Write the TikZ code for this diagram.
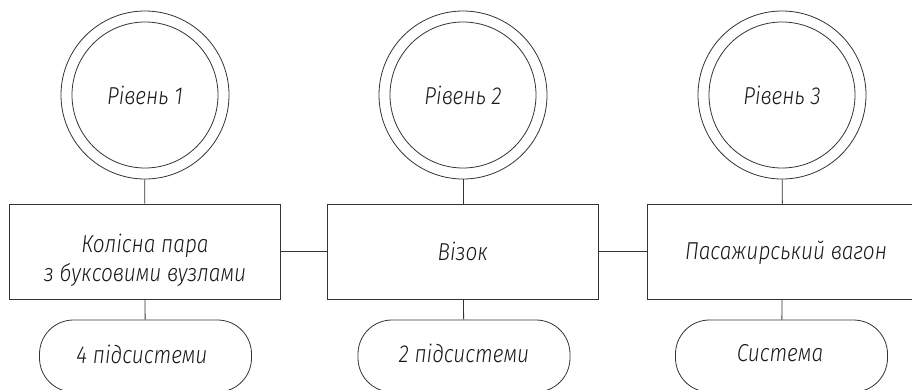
\documentclass[tikz,border=0pt]{standalone}
\usepackage{fontspec}
\IfFontExistsTF{Fira Sans Light}{\setmainfont{Fira Sans Light}[ItalicFont={Fira Sans Light Italic},ItalicFeatures={FakeStretch=0.85}]}{\setmainfont{Fira Sans}[ItalicFeatures={FakeStretch=0.85}]}
\begin{document}
\begin{tikzpicture}[x=1pt,y=-1pt,
  line width=0.8pt, draw=black!80,
  every node/.style={font=\fontsize{24.5}{29}\selectfont\itshape, text=black!90, inner sep=0pt},
  lvl/.style={circle, draw, minimum size=168pt},
  blk/.style={rectangle, draw, minimum width=271pt, minimum height=95pt, align=center},
  lbl/.style={align=center},
  pill/.style={rectangle, draw, rounded corners=34pt, minimum width=212pt, minimum height=72pt}]
\clip (0,0) rectangle (912,389);
\useasboundingbox (0,0) rectangle (912,389);

\node[lvl] (c1) at (145,95) {Рівень 1};
\node[lvl] (c2) at (463,95) {Рівень 2};
\node[lvl] (c3) at (782,95) {Рівень 3};
\foreach \c in {c1,c2,c3} \draw (\c.center) circle[radius=73];

\node[blk] (r1) at (144.5,251.5) {};
\node[lbl] (t1) at (145,260) {Колісна пара\\з буксовими вузлами};
\node[blk] (r2) at (463,251.5) {Візок};
\node[blk] (r3) at (782.5,251.5) {};
\node[lbl] (t3) at (786,253) {Пасажирський вагон};

\node[pill] (p1) at (145.5,356) {};
\node[lbl] (q1) at (142,354) {4 підсистеми};
\node[pill] (p2) at (464,356) {};
\node[lbl] (q2) at (464,353) {2 підсистеми};
\node[pill] (p3) at (781.5,356) {};
\node[lbl] (q3) at (780,353) {Система};

\draw (c1) -- (r1);
\draw (c2) -- (r2);
\draw (c3) -- (r3);
\draw (r1) -- (p1);
\draw (r2) -- (p2);
\draw (r3) -- (p3);
\draw (r1) -- (r2);
\draw (r2) -- (r3);
\end{tikzpicture}
\end{document}
